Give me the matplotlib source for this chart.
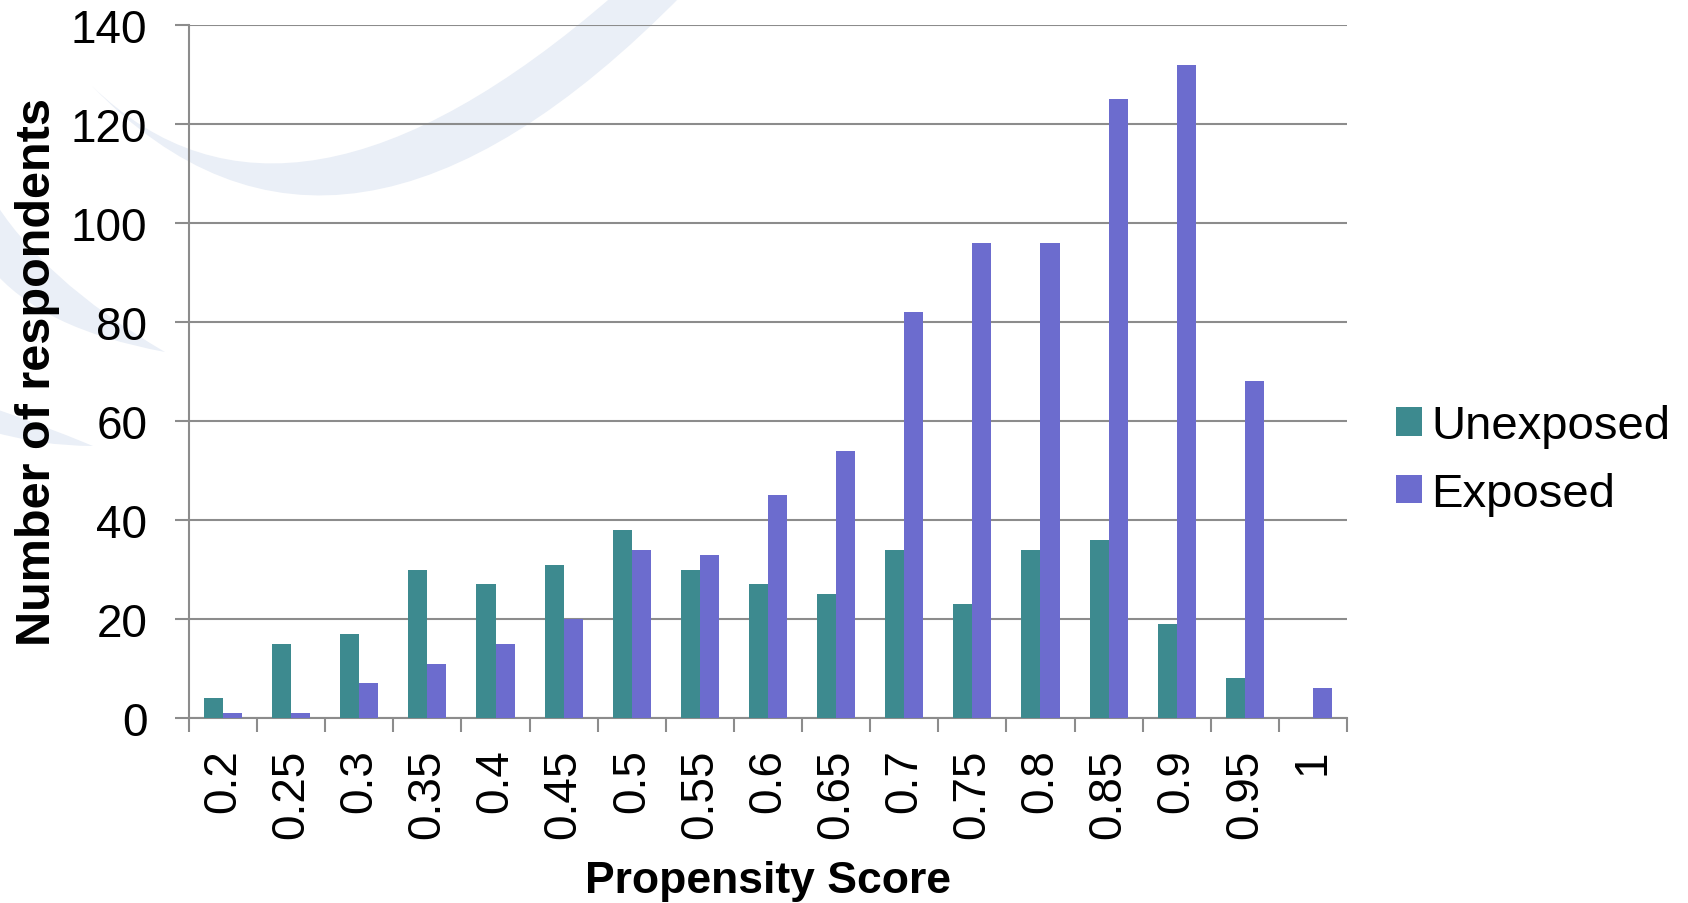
import numpy as np
import matplotlib
matplotlib.use('Agg')
import matplotlib.pyplot as plt
from matplotlib.path import Path
from matplotlib.patches import PathPatch

plt.rcParams['font.family'] = ['Liberation Sans', 'DejaVu Sans']

# data
scores = ['0.2', '0.25', '0.3', '0.35', '0.4', '0.45', '0.5', '0.55', '0.6',
          '0.65', '0.7', '0.75', '0.8', '0.85', '0.9', '0.95', '1']
unexposed = [4, 15, 17, 30, 27, 31, 38, 30, 27, 25, 34, 23, 34, 36, 19, 8, 0]
exposed = [1, 1, 7, 11, 15, 20, 34, 33, 45, 54, 82, 96, 96, 125, 132, 68, 6]

W, H = 1688, 904
fig = plt.figure(figsize=(W / 100, H / 100), dpi=100)

# light background swooshes (decoration), given in pixel coords
def swoosh(p_out, c_out, tip, c_in, p_in, color='#EAEFF7'):
    pts = [p_out, c_out, tip, c_in, p_in, p_out]
    pts = [(x / W, 1 - y / H) for x, y in pts]
    codes = [Path.MOVETO, Path.CURVE3, Path.CURVE3, Path.CURVE3, Path.CURVE3, Path.CLOSEPOLY]
    patch = PathPatch(Path(pts, codes), facecolor=color, edgecolor='none',
                      transform=fig.transFigure, zorder=0)
    fig.add_artist(patch)

swoosh((683, -5), (340, 345), (92, 87), (289, 279), (615, -5))
swoosh((-10, 268), (40, 330), (165, 353), (40, 280), (-10, 195))
swoosh((-10, 432), (40, 447), (93, 447), (40, 425), (-10, 408))

ax = fig.add_axes([189 / W, 1 - 719 / H, (1347 - 189) / W, (719 - 26) / H])
ax.patch.set_visible(False)

x = np.arange(len(scores))
w = 0.28
ax.bar(x - w / 2, unexposed, w, color='#3D8A8F', label='Unexposed', zorder=3)
ax.bar(x + w / 2, exposed, w, color='#6C6CCE', label='Exposed', zorder=3)

ax.set_xlim(-0.5, len(scores) - 0.5)
ax.set_ylim(0, 140)
ax.set_yticks(range(0, 141, 20))
ax.yaxis.grid(True, color='#8C8C8C', linewidth=1.5, zorder=1)
ax.set_axisbelow(True)

ax.set_xticks(x)
ax.set_xticklabels(scores, rotation=90)
ax.set_xticks(np.arange(-0.5, len(scores)), minor=True)
ax.tick_params(axis='x', which='major', length=0, pad=22, labelsize=33)
ax.tick_params(axis='x', which='minor', length=10, width=1.5, color='#8C8C8C')
ax.tick_params(axis='y', length=10, width=1.5, color='#8C8C8C', pad=20, labelsize=33)

for s in ['top', 'right']:
    ax.spines[s].set_visible(False)
for s in ['left', 'bottom']:
    ax.spines[s].set_color('#8C8C8C')
    ax.spines[s].set_linewidth(1.5)

ax.set_ylabel('Number of respondents', fontsize=35, fontweight='bold')
ax.yaxis.set_label_coords((60 - 189) / 1158, 0.5)
ax.set_xlabel('Propensity Score', fontsize=32, fontweight='bold')
ax.xaxis.set_label_coords(0.5, (719 - 861) / 693)

leg = ax.legend(loc='center left', bbox_to_anchor=(1396 / W, 1 - 461 / H),
                bbox_transform=fig.transFigure, frameon=False, fontsize=34,
                handlelength=0.55, handleheight=0.55, handletextpad=0.2,
                labelspacing=0.5, borderpad=0, borderaxespad=0)

fig.savefig('out.png', dpi=100)
